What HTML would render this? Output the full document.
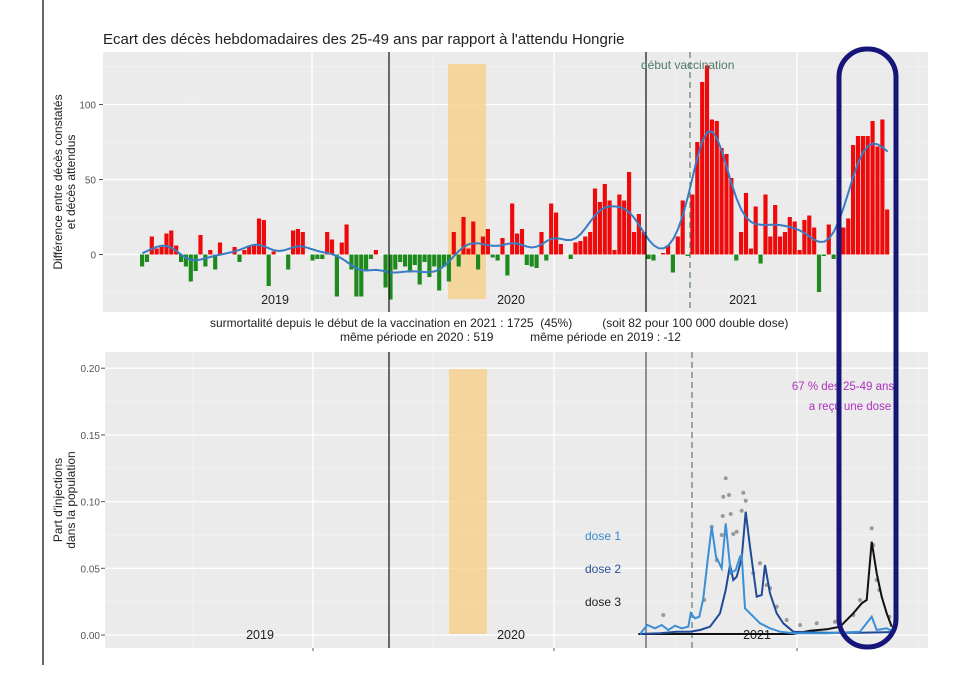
<!DOCTYPE html>
<html><head><meta charset="utf-8"><style>
html,body{margin:0;padding:0;background:#fff;width:955px;height:680px;overflow:hidden}
svg{display:block;font-family:"Liberation Sans",sans-serif}
</style></head><body>
<svg id="s" width="955" height="680" xmlns="http://www.w3.org/2000/svg"></svg>
<script>
const s=document.getElementById('s');let h='';
// left frame line
h+='<line x1="43" y1="0" x2="43" y2="665" stroke="#333" stroke-width="1.5"/>';
h+='<text x="103" y="44" font-size="15" fill="#222">Ecart des décès hebdomadaires des 25-49 ans par rapport à l\'attendu Hongrie</text>';
// TOP PANEL
const L=103,R=928,T=52,B=312;
h+=`<rect x="${L}" y="${T}" width="${R-L}" height="${B-T}" fill="#ebebeb"/>`;
const ty=v=>254.5-v*1.5;
for(const v of [-25,25,75,125])h+=`<line x1="${L}" x2="${R}" y1="${ty(v)}" y2="${ty(v)}" stroke="#f7f7f7" stroke-width="0.6"/>`;
for(const v of [0,50,100])h+=`<line x1="${L}" x2="${R}" y1="${ty(v)}" y2="${ty(v)}" stroke="#fff" stroke-width="1.3"/>`;
for(const x of [192,433,675,918])h+=`<line x1="${x}" x2="${x}" y1="${T}" y2="${B}" stroke="#f7f7f7" stroke-width="0.6"/>`;
for(const x of [312,554,797])h+=`<line x1="${x}" x2="${x}" y1="${T}" y2="${B}" stroke="#fff" stroke-width="1.3"/>`;
for(const v of [0,50,100]){h+=`<text x="96" y="${ty(v)+4}" font-size="10" fill="#555" text-anchor="end">${v}</text><line x1="99" x2="103" y1="${ty(v)}" y2="${ty(v)}" stroke="#555"/>`;}
h+=`<rect x="448" y="64" width="38" height="235" fill="#f5d08a" opacity="0.8"/>`;
const d19=[-8,-5,12,4,5,14,16,6,-5,-8,-18,-11,13,-8,3,-10,8,0,0,5,-5,3,6,6,24,23,-21,2,0,0,-10,16,17,15,0,-4,-3,-3,15,10,-28,8,20,-10,-28,-28,-10,-3,3,0,-22,-30];
const d20a=[-10,-5,-8,-12,-7,-20,-5,-15,-8,-24,-8,-18];
const d20=[15,-8,25,4,22,-10,12,17,-2,-4,11,-14,34,14,17,-7,-8,-9,15,-4,34,28,7,0,-3,8,9,12,15,44,35,47,36,3,40,36,55,15,27,15];
const d21=[-3,-4,0,1,6,-12,12,36,-1,40,75,115,126,90,89,71,67,51,-4,15,41,4,32,-6,40,12,33,12,15,25,22,3,23,26,18,-25,-1,20,-3,20,18,24,73,79,79,79,89,72,90,30];
const D=d19.concat(d20a,d20,d21);const N=D.length;const st=(890-140)/N;
D.forEach((v,i)=>{const x=140+i*st;const y0=ty(0),y1=ty(v);
 const c=v>=0?'#ee0a0a':'#1e8a1e';
 h+=`<rect x="${x.toFixed(1)}" y="${Math.min(y0,y1).toFixed(1)}" width="${(st-0.7).toFixed(2)}" height="${Math.abs(y1-y0).toFixed(1)}" fill="${c}"/>`;});
// smooth
let pts=[];for(let i=0;i<N;i++){let sw=0,sv=0;for(let j=-7;j<=7;j++){const k=i+j;if(k<0||k>=N)continue;const w=Math.exp(-j*j/(2*2.6*2.6));sw+=w;sv+=w*D[k];}pts.push(`${(140+i*st+st/2).toFixed(1)},${ty(sv/sw).toFixed(1)}`);}
h+=`<polyline points="${pts.join(' ')}" fill="none" stroke="#3a7cc4" stroke-width="2"/>`;
h+=`<line x1="389" x2="389" y1="${T}" y2="${B}" stroke="#111" stroke-width="1.2"/><line x1="646" x2="646" y1="${T}" y2="${B}" stroke="#111" stroke-width="1.2"/>`;
h+=`<line x1="690" x2="690" y1="${T}" y2="${B}" stroke="#5a7a6a" stroke-width="1.2" stroke-dasharray="6,4"/>`;
h+=`<text x="641" y="69" font-size="12" fill="#4f7a68">début vaccination</text>`;
for(const [t,x] of [['2019',275],['2020',511],['2021',743]])h+=`<text x="${x}" y="304" font-size="12.5" fill="#222" text-anchor="middle">${t}</text>`;
h+=`<text transform="translate(62,182) rotate(-90)" font-size="12" fill="#222" text-anchor="middle">Différence entre décès constatés</text>`;
h+=`<text transform="translate(75,182) rotate(-90)" font-size="12" fill="#222" text-anchor="middle">et décès attendus</text>`;
h+=`<text x="210" y="327" font-size="12" fill="#222" xml:space="preserve">surmortalité depuis le début de la vaccination en 2021 : 1725  (45%)         (soit 82 pour 100 000 double dose)</text>`;
h+=`<text x="340" y="341" font-size="12" fill="#222" xml:space="preserve">même période en 2020 : 519           même période en 2019 : -12</text>`;
// BOTTOM PANEL
const T2=352,B2=648,L2=105;
h+=`<rect x="${L2}" y="${T2}" width="${R-L2}" height="${B2-T2}" fill="#ebebeb"/>`;
const by=v=>635-v*1334;
for(const v of [0.025,0.075,0.125,0.175])h+=`<line x1="${L2}" x2="${R}" y1="${by(v)}" y2="${by(v)}" stroke="#f7f7f7" stroke-width="0.6"/>`;
for(const v of [0,0.05,0.1,0.15,0.2])h+=`<line x1="${L2}" x2="${R}" y1="${by(v)}" y2="${by(v)}" stroke="#fff" stroke-width="1.3"/><text x="100" y="${by(v)+4}" font-size="10" fill="#555" text-anchor="end">${v.toFixed(2)}</text><line x1="101" x2="105" y1="${by(v)}" y2="${by(v)}" stroke="#555"/>`;
for(const x of [193,433,675,918])h+=`<line x1="${x}" x2="${x}" y1="${T2}" y2="${B2}" stroke="#f7f7f7" stroke-width="0.6"/>`;
for(const x of [313,554,797])h+=`<line x1="${x}" x2="${x}" y1="${T2}" y2="${B2}" stroke="#fff" stroke-width="1.3"/><line x1="${x}" x2="${x}" y1="${B2}" y2="${B2+3}" stroke="#555"/>`;
h+=`<rect x="449" y="369" width="38" height="265" fill="#f5d08a" opacity="0.8"/>`;
h+=`<line x1="389" x2="389" y1="${T2}" y2="${B2}" stroke="#111" stroke-width="1.2"/><line x1="646" x2="646" y1="${T2}" y2="${B2}" stroke="#333" stroke-width="1"/>`;
h+=`<line x1="692" x2="692" y1="${T2}" y2="${B2}" stroke="#5a7a6a" stroke-width="1.2" stroke-dasharray="6,4"/>`;
for(const [t,x] of [['2019',260],['2020',511],['2021',757]])h+=`<text x="${x}" y="639" font-size="12.5" fill="#222" text-anchor="middle">${t}</text>`;
h+=`<text transform="translate(62,500) rotate(-90)" font-size="12" fill="#222" text-anchor="middle">Part d'injections</text>`;
h+=`<text transform="translate(75,500) rotate(-90)" font-size="12" fill="#222" text-anchor="middle">dans la population</text>`;
const zp=a=>a.map(([px,py])=>`${(560+px/3).toFixed(1)},${(360+py/3).toFixed(1)}`).join(' ');
const dots=[[310,765],[497,355],[490,410],[507,405],[488,468],[512,462],[550,398],[545,452],[557,422],[530,515],[520,522],[485,525],[433,720],[580,640],[620,675],[630,685],[650,740],[680,780],[720,795],[770,790],[825,785],[880,765],[900,720],[935,505],[940,555],[950,660],[958,690],[988,770],[455,500],[470,600],[600,610]];
dots.forEach(([px,py])=>h+=`<circle cx="${(560+px/3).toFixed(1)}" cy="${(360+py/3).toFixed(1)}" r="2" fill="#999"/>`);
h+=`<polyline points="${zp([[235,822],[700,822],[750,812],[800,808],[840,800],[880,760],[905,730],[920,720],[935,545],[950,640],[965,710],[980,760],[995,800]])}" fill="none" stroke="#111" stroke-width="2"/>`;
h+=`<polyline points="${zp([[240,822],[300,820],[350,815],[390,815],[420,810],[450,800],[480,760],[497,690],[510,615],[520,660],[530,650],[545,595],[557,455],[570,560],[590,710],[605,705],[615,615],[630,700],[650,760],[670,790],[700,815],[800,818],[900,818],[1000,816]])}" fill="none" stroke="#1f4b96" stroke-width="2"/>`;
h+=`<polyline points="${zp([[240,822],[262,795],[285,805],[305,795],[325,810],[345,797],[365,805],[385,800],[392,760],[405,775],[418,770],[430,715],[443,600],[455,500],[468,590],[485,625],[497,490],[512,640],[527,630],[540,590],[545,585],[555,745],[570,760],[600,790],[630,805],[660,815],[700,820],[800,820],[900,815],[935,770],[950,810],[980,805],[1000,815]])}" fill="none" stroke="#3a8fd6" stroke-width="2"/>`;
h+=`<text x="585" y="540" font-size="12" fill="#3a8ad0">dose 1</text><text x="585" y="573" font-size="12" fill="#2a4f9a">dose 2</text><text x="585" y="606" font-size="12" fill="#222">dose 3</text>`;
h+=`<text x="843" y="390" font-size="11.5" fill="#b030c0" text-anchor="middle">67 % des 25-49 ans</text><text x="850" y="410" font-size="11.5" fill="#b030c0" text-anchor="middle">a reçu une dose</text>`;
h+=`<rect x="839" y="49" width="57" height="598" rx="28" fill="none" stroke="#15157a" stroke-width="5"/>`;
s.innerHTML=h;
</script>
</body></html>
